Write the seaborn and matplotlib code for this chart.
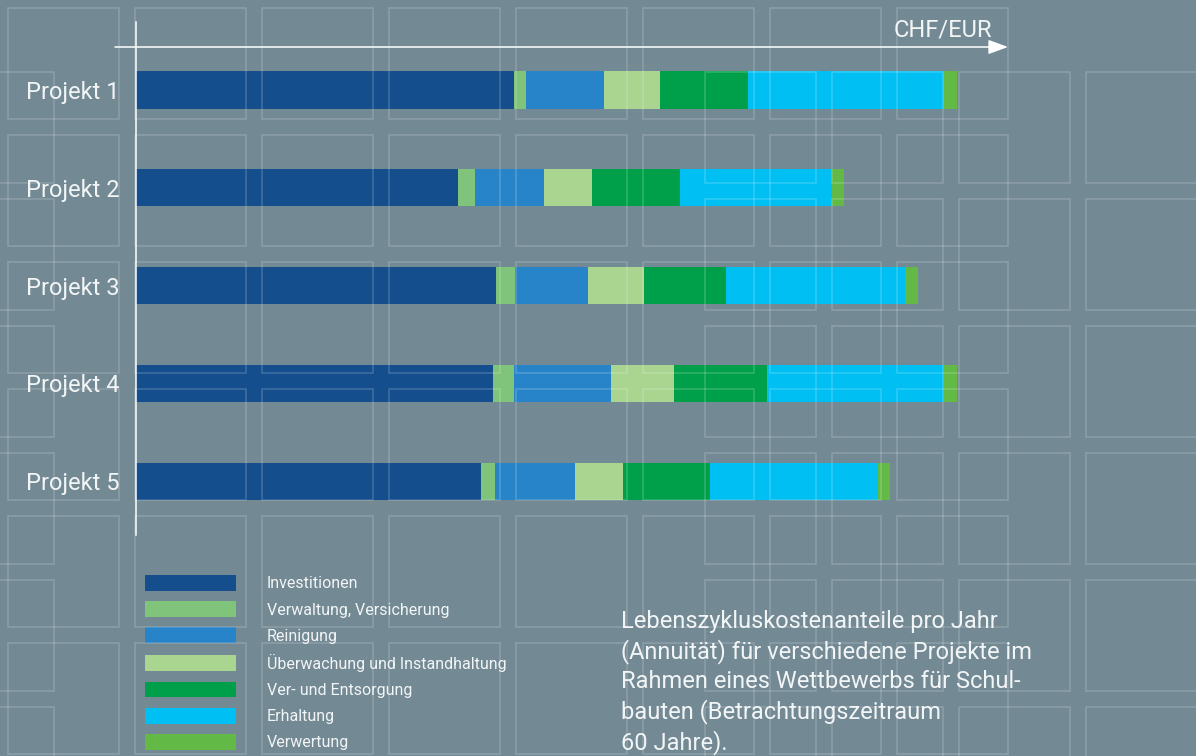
import pandas as pd
import matplotlib.pyplot as plt
import seaborn as sns
from matplotlib.patches import Patch, Rectangle

# Daten (Breiten der Segmente)
projekte = ['Projekt 1', 'Projekt 2', 'Projekt 3', 'Projekt 4', 'Projekt 5']
kategorien = ['Investitionen', 'Verwaltung, Versicherung', 'Reinigung',
              'Überwachung und Instandhaltung', 'Ver- und Entsorgung',
              'Erhaltung', 'Verwertung']
investitionen = [378, 322, 360, 357, 345]
verwaltung = [12, 17, 19, 21, 14]
reinigung = [78, 69, 73, 97, 80]
ueberwachung = [56, 48, 56, 63, 48]
entsorgung = [88, 88, 82, 93, 87]
erhaltung = [195, 152, 179, 177, 168]
verwertung = [14, 12, 13, 13, 12]

farben = ['#154e8c', '#7fc47a', '#2784c8', '#a9d591', '#00a04a', '#00c0f3', '#62b946']

caption = ('Lebenszykluskostenanteile pro Jahr\n'
           '(Annuität) für verschiedene Projekte im\n'
           'Rahmen eines Wettbewerbs für Schul-\n'
           'bauten (Betrachtungszeitraum\n'
           '60 Jahre).')

df = pd.DataFrame(dict(zip(kategorien, [investitionen, verwaltung, reinigung,
                                        ueberwachung, entsorgung, erhaltung,
                                        verwertung])), index=projekte)
kum = df.cumsum(axis=1)

sns.set_style('white')
plt.rcParams['font.family'] = ['Roboto', 'DejaVu Sans']
bg = '#738994'
txt = '#f2f5f6'

W, H = 1196, 756
fig = plt.figure(figsize=(W / 100, H / 100), dpi=100, facecolor=bg)
ax = fig.add_axes([136 / W, 1 - 535 / H, (1005 - 136) / W, (535 - 22) / H])
ax.set_facecolor('none')

# gestapelt: kumulierte Summen von hinten nach vorne zeichnen
for kat, farbe in reversed(list(zip(kategorien, farben))):
    sns.barplot(x=kum[kat].values, y=projekte, color=farbe, saturation=1,
                width=0.38, errorbar=None, linewidth=0, orient='h', ax=ax)

ax.set_xlim(0, 869)
ax.set_ylim(4.55, -0.696)
ax.set_xlabel('')
ax.set_ylabel('')
ax.set_xticks([])
for s in ['top', 'right', 'bottom']:
    ax.spines[s].set_visible(False)
ax.spines['left'].set_color('white')
ax.spines['left'].set_linewidth(1.1)
ax.tick_params(axis='y', length=0, pad=12, labelsize=17, labelcolor=txt)

# Legende
handles = [Patch(facecolor=f, edgecolor='none', label=k) for k, f in zip(kategorien, farben)]
fig.legend(handles=handles, loc='upper left', bbox_to_anchor=(145 / W, 1 - 575 / H),
           frameon=False, fontsize=11.5, labelcolor=txt, handlelength=5.69,
           handleheight=1.15, handletextpad=1.94, labelspacing=0.62,
           borderpad=0, borderaxespad=0)

fig.text(992 / W, 1 - 37 / H, 'CHF/EUR', ha='right', va='baseline', fontsize=17, color=txt)
fig.text(621 / W, 1 - 610 / H, caption, ha='left', va='top', fontsize=17,
         linespacing=1.32, color=txt)

# Overlay: Pfeil und dekoratives Quadratraster
ov = fig.add_axes([0, 0, 1, 1], zorder=10)
ov.set_xlim(0, W)
ov.set_ylim(H, 0)
ov.axis('off')
ov.patch.set_visible(False)
ov.annotate('', xy=(1008, 47), xytext=(115, 47),
            arrowprops=dict(arrowstyle='-|>,head_length=0.6,head_width=0.22',
                            color='white', lw=1.1, mutation_scale=20,
                            shrinkA=0, shrinkB=0))

raster1_x = [8 + 127 * i for i in range(8)]
raster1_y = [8 + 127 * j for j in range(6)]
raster2_x = [-57, 705, 832, 959, 1086]
raster2_y = [72 + 127 * j for j in range(6)]
for xs, ys in [(raster1_x, raster1_y), (raster2_x, raster2_y)]:
    for x0 in xs:
        for y0 in ys:
            ov.add_patch(Rectangle((x0, y0), 111, 111, facecolor='none',
                                   edgecolor='white', alpha=0.18, lw=1.2))

fig.savefig('out.png', dpi=100, facecolor=bg)
